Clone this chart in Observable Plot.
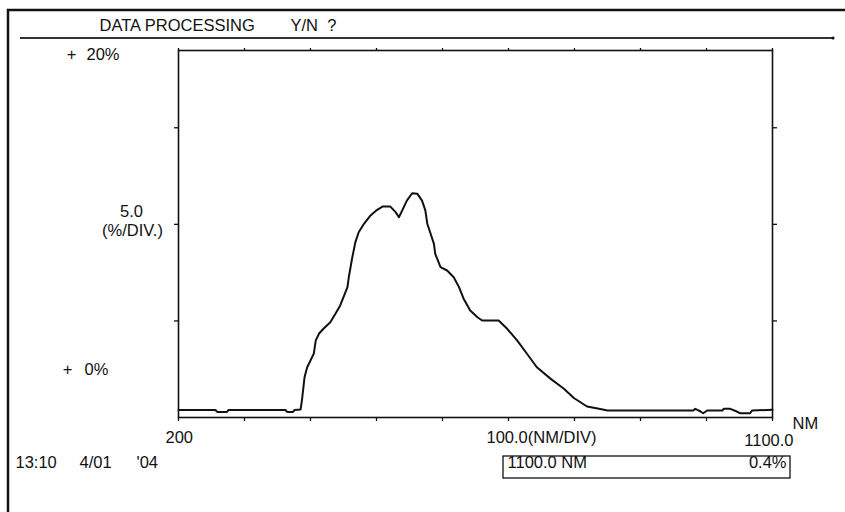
<!DOCTYPE html>
<html>
<head>
<meta charset="utf-8">
<script src="https://cdn.jsdelivr.net/npm/d3@7"></script>
<script src="https://cdn.jsdelivr.net/npm/@observablehq/plot@0.6"></script>
<style>
  html, body { margin: 0; padding: 0; background: #fff; }
  #chart svg { display: block; }
</style>
</head>
<body>
<div id="chart"></div>
<script>
// Wavelength (NM) and relative level (%) of the measured spectrum
const wavelength = [
  200, 256, 259, 273, 276, 362, 365, 373, 376, 385,
  387, 391, 395, 400, 405, 408, 413, 420, 430, 438,
  445, 450, 456, 458, 463, 468, 473, 481, 491, 501,
  509, 521, 529, 534, 539, 546, 554, 562, 569, 574,
  577, 582, 587, 589, 597, 607, 617, 625, 632, 642,
  653, 660, 685, 698, 713, 728, 743, 764, 784, 799,
  819, 837, 850, 980, 983, 991, 995, 1001, 1024, 1026,
  1036, 1046, 1051, 1066, 1069, 1100
];
const percent = [
  0.39, 0.39, 0.28, 0.28, 0.39, 0.39, 0.28, 0.28, 0.39, 0.42,
  0.88, 2.09, 2.60, 2.95, 3.31, 3.99, 4.35, 4.61, 4.93, 5.38,
  5.80, 6.23, 6.75, 7.26, 8.23, 9.08, 9.59, 10.03, 10.46, 10.75,
  10.92, 10.92, 10.63, 10.37, 10.72, 11.23, 11.61, 11.58, 11.23, 10.72,
  10.03, 9.51, 8.99, 8.47, 7.78, 7.61, 7.26, 6.75, 6.15, 5.54,
  5.19, 5.02, 5.02, 4.59, 3.99, 3.30, 2.60, 2.00, 1.49, 1.01,
  0.57, 0.45, 0.36, 0.36, 0.45, 0.31, 0.22, 0.36, 0.36, 0.45,
  0.45, 0.31, 0.22, 0.22, 0.36, 0.40
];

// Scale divisions: 100 NM per division, 5 % per division
const xTicks = [200, 300, 400, 500, 600, 700, 800, 900, 1000, 1100];
const yTicks = [5, 10, 15];

// Screen texts
const headerText = "DATA PROCESSING";
const promptText = "Y/N  ?";
const yTopLabel = "20%";
const yBottomLabel = "0%";
const yDivValue = "5.0";
const yDivUnit = "(%/DIV.)";
const xStartLabel = "200";
const xDivLabel = "100.0(NM/DIV)";
const xEndLabel = "1100.0";
const xUnit = "NM";
const timeLabel = "13:10";
const dateLabel = "4/01";
const yearLabel = "'04";
const cursorPosition = "1100.0 NM";
const cursorValue = "0.4%";

const spectrum = wavelength.map((w, i) => ({wavelength: w, percent: percent[i]}));

const ink = "#111";
const font = "'Liberation Sans', Arial, sans-serif";
const fs = 16.5;
const one = [0];

const txt = (t, o) => Plot.text(one, {text: () => t, fill: ink, fontSize: fs, ...o});

const chart = Plot.plot({
  width: 845,
  height: 512,
  marginLeft: 178,
  marginRight: 73,
  marginTop: 50,
  marginBottom: 95,
  style: {fontFamily: font, background: "#fff", color: ink},
  x: {domain: [200, 1100], label: null},
  y: {domain: [0, 19], label: null},
  marks: [
    Plot.frame({stroke: ink, strokeWidth: 1.6}),
    Plot.axisX(xTicks, {anchor: "bottom", tickSize: 4, tickFormat: () => "", label: null, stroke: ink, strokeWidth: 1.3}),
    Plot.axisX(xTicks, {anchor: "top", tickSize: 3, tickFormat: () => "", label: null, stroke: ink, strokeWidth: 1.3}),
    Plot.axisY(yTicks, {anchor: "left", tickSize: 4, tickFormat: () => "", label: null, stroke: ink, strokeWidth: 1.3}),
    Plot.axisY(yTicks, {anchor: "right", tickSize: 4, tickFormat: () => "", label: null, stroke: ink, strokeWidth: 1.3}),
    Plot.line(spectrum, {x: "wavelength", y: "percent", stroke: ink, strokeWidth: 2}),

    // header
    txt(headerText, {frameAnchor: "top-left", textAnchor: "start", dx: -79, dy: -31}),
    txt(promptText, {frameAnchor: "top-left", textAnchor: "start", dx: 112, dy: -31}),
    // vertical scale texts
    txt("+", {frameAnchor: "top-left", textAnchor: "middle", dx: -107, dy: -2}),
    txt(yTopLabel, {frameAnchor: "top-left", textAnchor: "start", dx: -92, dy: -2}),
    txt(yDivValue, {frameAnchor: "top-left", textAnchor: "middle", dx: -47, dy: 155}),
    txt(yDivUnit, {frameAnchor: "top-left", textAnchor: "middle", dx: -46, dy: 174}),
    txt("+", {frameAnchor: "top-left", textAnchor: "middle", dx: -111, dy: 313}),
    txt(yBottomLabel, {frameAnchor: "top-left", textAnchor: "start", dx: -94, dy: 313}),
    // horizontal scale texts
    txt(xStartLabel, {frameAnchor: "bottom-left", textAnchor: "start", dx: -13, dy: 25}),
    txt(xDivLabel, {frameAnchor: "bottom-left", textAnchor: "start", dx: 308, dy: 25}),
    txt(xEndLabel, {frameAnchor: "bottom-right", textAnchor: "end", dx: 21, dy: 28}),
    txt(xUnit, {frameAnchor: "bottom-right", textAnchor: "start", dx: 20, dy: 11}),
    // time stamp
    txt(timeLabel, {frameAnchor: "bottom-left", textAnchor: "start", dx: -163, dy: 50}),
    txt(dateLabel, {frameAnchor: "bottom-left", textAnchor: "start", dx: -99, dy: 50}),
    txt(yearLabel, {frameAnchor: "bottom-left", textAnchor: "start", dx: -42, dy: 50}),
    // cursor readout
    txt(cursorPosition, {frameAnchor: "bottom-left", textAnchor: "start", dx: 329, dy: 50}),
    txt(cursorValue, {frameAnchor: "bottom-right", textAnchor: "end", dx: 14, dy: 50})
  ]
});

// Screen border, header rule and cursor readout box
const svg = d3.select(chart);
svg.insert("path", ":first-child")
  .attr("d", "M8,512V10H845")
  .attr("fill", "none").attr("stroke", ink).attr("stroke-width", 2.5);
svg.append("line")
  .attr("x1", 20).attr("x2", 833).attr("y1", 38).attr("y2", 38)
  .attr("stroke", "#333").attr("stroke-width", 1.8);
svg.append("circle").attr("cx", 833).attr("cy", 38).attr("r", 1.6).attr("fill", ink);
svg.append("rect")
  .attr("x", 503).attr("y", 456).attr("width", 287).attr("height", 22)
  .attr("fill", "none").attr("stroke", ink).attr("stroke-width", 1.3);

document.getElementById("chart").appendChild(chart);
</script>
</body>
</html>
